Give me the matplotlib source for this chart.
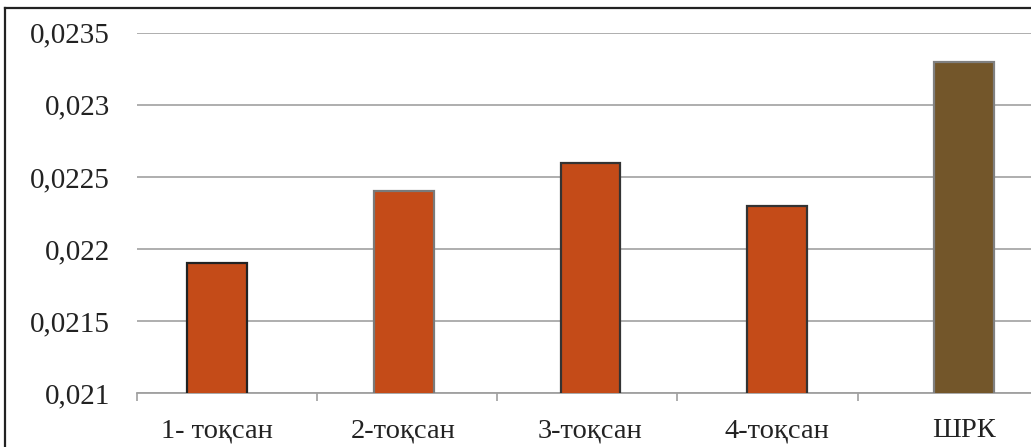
import matplotlib
matplotlib.use('Agg')
import matplotlib.pyplot as plt
from matplotlib.lines import Line2D
import numpy as np

# Данные
categories = ['1- тоқсан', '2-тоқсан', '3-тоқсан', '4-тоқсан', 'ШРК']
values = [0.0219, 0.0224, 0.0226, 0.0223, 0.0233]
bar_colors = ['#c44b18', '#c44b18', '#c44b18', '#c44b18', '#73562a']
edge_colors = ['#222222', '#7a7a7a', '#333333', '#333333', '#808080']
y_ticks = [0.021, 0.0215, 0.022, 0.0225, 0.023, 0.0235]
y_labels = ['0,021', '0,0215', '0,022', '0,0225', '0,023', '0,0235']

plt.rcParams['font.family'] = ['Liberation Serif', 'DejaVu Serif']

fig = plt.figure(figsize=(10.31, 4.47), dpi=100)
ax = fig.add_axes([137 / 1031, 1 - 393.3 / 447, 1 - 137 / 1031, (393.3 - 32.7) / 447])

x = np.arange(len(categories))
ax.bar(x, values, width=0.32, color=bar_colors, edgecolor=edge_colors, linewidth=1.6, zorder=3)

ax.set_ylim(y_ticks[0], y_ticks[-1])
ax.set_xlim(-0.428, 4.359)
ax.set_yticks(y_ticks)
ax.set_yticklabels(y_labels, fontsize=21, color='#222222')
ax.tick_params(axis='y', length=0, pad=19.5)
ax.yaxis.grid(True, color='#a8a8a8', linewidth=1.3, zorder=0)

ax.set_xticks(x)
ax.set_xticklabels(categories, fontsize=20.5, color='#222222')
ax.tick_params(axis='x', which='major', length=0, pad=18)
ax.set_xticks([-0.428, 0.535, 1.5, 2.465, 3.43], minor=True)
ax.tick_params(axis='x', which='minor', length=6, width=1.2, color='#a0a0a0', direction='out')

for side in ['top', 'right', 'left']:
    ax.spines[side].set_visible(False)
ax.spines['bottom'].set_color('#a0a0a0')
ax.spines['bottom'].set_linewidth(1.3)

# рамка
W, H = 1031, 447
fig.add_artist(Line2D([5 / W, 5 / W], [0, 1 - 8 / H], color='#222222', linewidth=1.6))
fig.add_artist(Line2D([5 / W, 1], [1 - 8 / H, 1 - 8 / H], color='#222222', linewidth=1.6))

fig.savefig('out.png', dpi=100)
